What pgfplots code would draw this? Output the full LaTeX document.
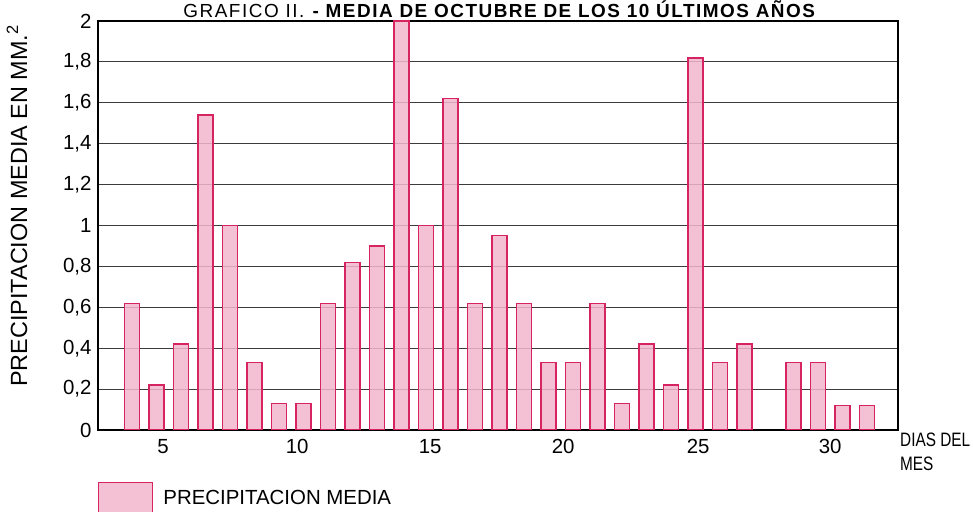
\documentclass[border=0pt]{standalone}
\usepackage{pgfplots}
\pgfplotsset{compat=1.18}
\usepackage{fontspec}
\setmainfont{Liberation Sans}
\definecolor{barfill}{RGB}{242,182,205}
\definecolor{baredge}{RGB}{214,36,96}
\definecolor{gridc}{RGB}{60,60,60}
\begin{document}
\begin{tikzpicture}
\begin{axis}[
  at={(98bp,82bp)}, anchor=south west,
  scale only axis, width=800bp, height=409bp,
  xmin=-1.39, xmax=31.27, ymin=0, ymax=2,
  ytick={0,0.2,...,2.01},
  xtick={1.27,6.74,12.17,17.6,23.11,28.5},
  xticklabels={5,10,15,20,25,30},
  major tick length=0pt,
  ymajorgrids, major grid style={line width=1bp, gridc},
  axis line style={line width=2.5bp, black},
  /pgf/number format/assume math mode=true,
  /pgf/number format/use comma,
  tick label style={font=\fontsize{20.5}{24}\selectfont, text=black},
  xticklabel style={yshift=-6bp},
  yticklabel style={xshift=-3bp},
  legend style={at={(axis description cs:0,-0.127)}, anchor=north west,
    draw=none, fill=none, inner sep=0pt, outer sep=0pt,
    font=\fontsize{20.5}{24}\selectfont,
    nodes={inner sep=0pt}},
  legend image code/.code={\draw[#1] (0bp,-15bp) rectangle (54bp,15bp); \path (64bp,0);},
]
\addplot[ybar, bar width=15bp, fill=barfill, fill opacity=0.85, draw=baredge, line width=1.4bp]
coordinates {
(0,0.62) (1,0.22) (2,0.42) (3,1.54) (4,1.00) (5,0.33) (6,0.13) (7,0.13)
(8,0.62) (9,0.82) (10,0.90) (11,2.00) (12,1.00) (13,1.62) (14,0.62) (15,0.95)
(16,0.62) (17,0.33) (18,0.33) (19,0.62) (20,0.13) (21,0.42) (22,0.22) (23,1.82)
(24,0.33) (25,0.42) (27,0.33) (28,0.33) (29,0.12) (30,0.12)
};
\addlegendentry{PRECIPITACION MEDIA}
\end{axis}
\node[anchor=base, inner sep=0pt, font=\fontsize{19}{22}\selectfont\addfontfeature{LetterSpace=8}] at (500bp,494.5bp)
  {GRAFICO II. \textbf{- MEDIA DE OCTUBRE DE LOS 10 ÚLTIMOS AÑOS}};
\node[rotate=90, inner sep=0pt, font=\fontsize{23.5}{27}\selectfont] at (17bp,306bp)
  {PRECIPITACION MEDIA EN MM.\textsuperscript{2}};
\node[anchor=north west, inner sep=0pt, align=left, font=\fontsize{19.5}{23.5}\selectfont] at (900bp,79bp)
  {\scalebox{0.79}[1]{DIAS DEL}\\\scalebox{0.79}[1]{MES}};
\pgfresetboundingbox
\path[use as bounding box] (0bp,0bp) rectangle (973bp,512bp);
\end{tikzpicture}
\end{document}
